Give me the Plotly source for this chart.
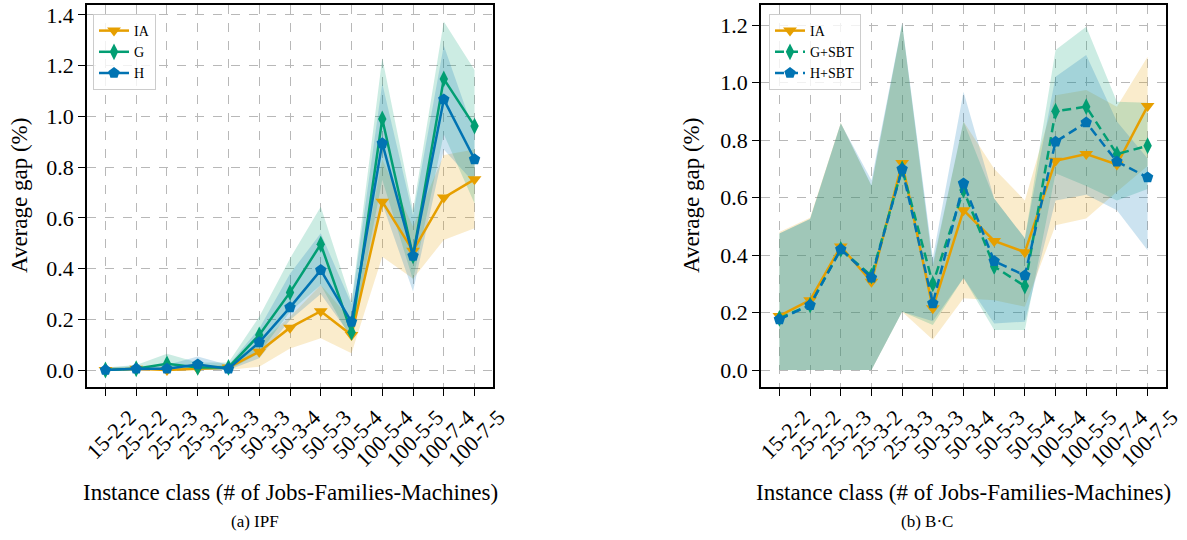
import plotly.graph_objects as go

# Instance classes (# of Jobs-Families-Machines)
classes = ["15-2-2", "25-2-2", "25-2-3", "25-3-2", "25-3-3", "50-3-3", "50-3-4",
           "50-5-3", "50-5-4", "100-5-4", "100-5-5", "100-7-4", "100-7-5"]

# (a) IPF: average gap (%) with lower / upper band
ipf_ia = [0.0, 0.005, 0.0, 0.005, 0.01, 0.072, 0.167, 0.232, 0.138, 0.664, 0.47, 0.68, 0.752]
ipf_ia_lo = [0.0, 0.0, 0.0, 0.0, 0.0, 0.013, 0.085, 0.125, 0.066, 0.447, 0.36, 0.513, 0.559]
ipf_ia_hi = [0.012, 0.012, 0.01, 0.02, 0.02, 0.105, 0.21, 0.335, 0.197, 0.83, 0.565, 0.848, 0.87]

ipf_g = [0.0, 0.005, 0.025, 0.01, 0.01, 0.138, 0.306, 0.496, 0.149, 0.99, 0.45, 1.148, 0.962]
ipf_g_lo = [0.0, 0.0, 0.0, 0.0, 0.0, 0.066, 0.23, 0.335, 0.118, 0.75, 0.355, 0.93, 0.657]
ipf_g_hi = [0.01, 0.02, 0.064, 0.03, 0.03, 0.21, 0.44, 0.644, 0.27, 1.23, 0.63, 1.374, 1.183]

ipf_h = [0.0, 0.005, 0.005, 0.022, 0.005, 0.109, 0.247, 0.394, 0.19, 0.894, 0.45, 1.067, 0.831]
ipf_h_lo = [0.0, 0.0, 0.0, 0.0, 0.0, 0.046, 0.197, 0.30, 0.13, 0.657, 0.31, 0.87, 0.736]
ipf_h_hi = [0.01, 0.015, 0.02, 0.053, 0.02, 0.164, 0.38, 0.539, 0.26, 1.13, 0.61, 1.28, 0.933]

# (b) B·C: average gap (%) with lower / upper band
bc_ia = [0.188, 0.243, 0.43, 0.307, 0.72, 0.215, 0.556, 0.449, 0.41, 0.728, 0.751, 0.715, 0.918]
bc_ia_lo = [0.0, 0.0, 0.0, 0.0, 0.203, 0.105, 0.25, 0.243, 0.22, 0.504, 0.527, 0.62, 0.71]
bc_ia_hi = [0.48, 0.53, 0.86, 0.64, 1.2, 0.36, 0.864, 0.70, 0.59, 0.956, 0.974, 0.916, 1.09]

bc_g = [0.18, 0.226, 0.42, 0.327, 0.70, 0.30, 0.626, 0.36, 0.292, 0.90, 0.916, 0.751, 0.78]
bc_g_lo = [0.0, 0.0, 0.0, 0.0, 0.203, 0.157, 0.32, 0.139, 0.139, 0.684, 0.64, 0.59, 0.63]
bc_g_hi = [0.475, 0.525, 0.858, 0.643, 1.205, 0.37, 0.864, 0.597, 0.458, 1.113, 1.194, 0.933, 0.93]

bc_h = [0.176, 0.226, 0.42, 0.321, 0.699, 0.232, 0.649, 0.379, 0.329, 0.794, 0.861, 0.725, 0.67]
bc_h_lo = [0.0, 0.0, 0.0, 0.0, 0.203, 0.17, 0.32, 0.162, 0.168, 0.59, 0.61, 0.556, 0.417]
bc_h_hi = [0.475, 0.525, 0.858, 0.66, 1.205, 0.39, 0.968, 0.597, 0.458, 1.02, 1.096, 0.864, 0.736]

ORANGE = "#E69F00"
GREEN = "#029E73"
BLUE = "#0173B2"
FONT = '"Liberation Serif", "Times New Roman", Times, serif'


def rgba(hex_color, a):
    h = hex_color.lstrip("#")
    r, g, b = int(h[0:2], 16), int(h[2:4], 16), int(h[4:6], 16)
    return f"rgba({r},{g},{b},{a})"


fig = go.Figure()


def add_band(lo, hi, color, xa, ya):
    fig.add_trace(go.Scatter(
        x=classes + classes[::-1], y=hi + lo[::-1],
        fill="toself", fillcolor=rgba(color, 0.2), line=dict(width=0),
        mode="lines", hoverinfo="skip", showlegend=False,
        xaxis=xa, yaxis=ya))


def add_line(vals, name, color, symbol, dash, xa, ya, legend):
    fig.add_trace(go.Scatter(
        x=classes, y=vals, name=name, mode="lines+markers",
        line=dict(color=color, width=2.5, dash=dash),
        marker=dict(symbol=symbol, size=12, color=color),
        xaxis=xa, yaxis=ya, legend=legend))


DASHED = "9px,5px"

# Panel (a)
add_band(ipf_ia_lo, ipf_ia_hi, ORANGE, "x", "y")
add_band(ipf_g_lo, ipf_g_hi, GREEN, "x", "y")
add_band(ipf_h_lo, ipf_h_hi, BLUE, "x", "y")
add_line(ipf_ia, "IA", ORANGE, "triangle-down", "solid", "x", "y", "legend")
add_line(ipf_g, "G", GREEN, "diamond-tall", "solid", "x", "y", "legend")
add_line(ipf_h, "H", BLUE, "pentagon", "solid", "x", "y", "legend")

# Panel (b)
add_band(bc_ia_lo, bc_ia_hi, ORANGE, "x2", "y2")
add_band(bc_g_lo, bc_g_hi, GREEN, "x2", "y2")
add_band(bc_h_lo, bc_h_hi, BLUE, "x2", "y2")
add_line(bc_ia, "IA", ORANGE, "triangle-down", "solid", "x2", "y2", "legend2")
add_line(bc_g, "G+SBT", GREEN, "diamond-tall", DASHED, "x2", "y2", "legend2")
add_line(bc_h, "H+SBT", BLUE, "pentagon", DASHED, "x2", "y2", "legend2")

W, H = 1187, 540
y_dom = [1 - 387 / H, 1 - 5 / H]

axis_common = dict(
    showline=True, mirror=True, linecolor="black", linewidth=1.5,
    ticks="outside", ticklen=7, tickwidth=1.3, tickcolor="black",
    showgrid=True, gridcolor="#b8b8b8", gridwidth=1, griddash="dash",
    zeroline=False, automargin=False,
    tickfont=dict(family=FONT, size=22, color="black"),
)
x_common = dict(type="category", range=[-0.6, 12.6], tickangle=-45,
                ticklabelshift=24, **axis_common)
y_common = dict(dtick=0.2, tick0=0, tickformat=".1f", **axis_common)
legend_common = dict(xanchor="left", yanchor="top", y=1 - 14 / H,
                     bgcolor="rgba(255,255,255,0.8)", bordercolor="#cccccc",
                     borderwidth=1, font=dict(family=FONT, size=14))

fig.update_layout(
    width=W, height=H,
    margin=dict(l=0, r=0, t=0, b=0, autoexpand=False),
    paper_bgcolor="white", plot_bgcolor="white",
    font=dict(family=FONT, color="black"),
    xaxis=dict(domain=[87 / W, 493 / W], anchor="y", **x_common),
    yaxis=dict(domain=y_dom, anchor="x", range=[-0.067, 1.4394], **y_common),
    xaxis2=dict(domain=[761 / W, 1166 / W], anchor="y2", **x_common),
    yaxis2=dict(domain=y_dom, anchor="x2", range=[-0.059, 1.2696], **y_common),
    legend=dict(x=93 / W, **legend_common),
    legend2=dict(x=769 / W, **legend_common),
)

xt = "Instance class (# of Jobs-Families-Machines)"
yt = "Average gap (%)"
ann = [
    dict(x=290 / W, y=1 - 492 / H, text=xt, size=23, angle=0),
    dict(x=963 / W, y=1 - 492 / H, text=xt, size=23, angle=0),
    dict(x=20 / W, y=1 - 196 / H, text=yt, size=23, angle=-90),
    dict(x=692 / W, y=1 - 196 / H, text=yt, size=23, angle=-90),
    dict(x=255 / W, y=1 - 521 / H, text="(a) IPF", size=17, angle=0),
    dict(x=927 / W, y=1 - 521 / H, text="(b) B·C", size=17, angle=0),
]
for a in ann:
    fig.add_annotation(xref="paper", yref="paper", showarrow=False,
                       xanchor="center", yanchor="middle",
                       x=a["x"], y=a["y"], text=a["text"], textangle=a["angle"],
                       font=dict(family=FONT, color="black", size=a["size"]))

fig.write_html("out.html")
